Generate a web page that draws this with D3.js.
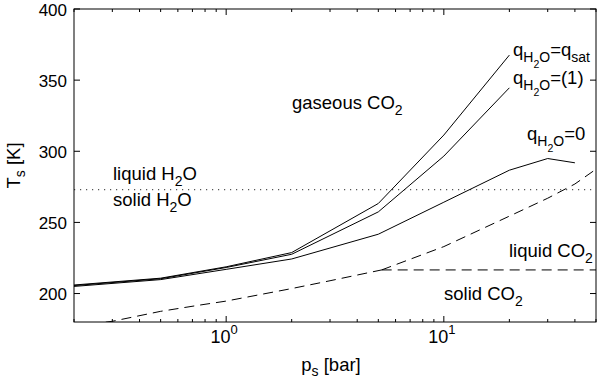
<!DOCTYPE html>
<html>
<head>
<meta charset="utf-8">
<script src="https://cdn.jsdelivr.net/npm/d3@7"></script>
<style>
  html, body { margin: 0; padding: 0; background: #fff; }
  svg { display: block; font-family: "Liberation Sans", Arial, sans-serif; }
</style>
</head>
<body>
<svg id="chart" width="600" height="381"></svg>
<script>
// surface temperature vs surface pressure, three humidity cases
const pressure = [0.2, 0.5, 1, 2, 5, 10, 20];
const tQsat    = [206, 210.8, 218.8, 228.8, 263.3, 311.4, 367.6];
const tQone    = [205.6, 210.4, 218.3, 227.6, 257.4, 296.6, 344.6];

const pressureDry = [0.2, 0.5, 1, 2, 5, 10, 20, 30, 40];
const tQzero      = [205, 209.8, 217, 224.3, 241.7, 264.2, 286.7, 294.9, 291.9];

// CO2 phase boundaries (sublimation, vaporisation, triple point line)
const pSublim = [0.2, 0.3, 0.5, 0.75, 1, 2, 3, 5.18];
const tSublim = [177, 180.5, 187.5, 191.8, 194.7, 203.5, 209, 216.6];
const pVapour = [5.18, 10, 20, 30, 40, 50];
const tVapour = [216.6, 233, 254.4, 267, 277, 287.4];
const pTriple = [5.18, 50];
const tTriple = [216.6, 216.6];

const tWaterFreeze = 273;

const xMajor = [1, 10];
const xMinor = [0.2, 0.3, 0.4, 0.5, 0.6, 0.7, 0.8, 0.9, 2, 3, 4, 5, 6, 7, 8, 9, 20, 30, 40, 50];
const yTicks = [200, 250, 300, 350, 400];

const svg = d3.select('#chart');
const m = { left: 74, top: 9, right: 4, bottom: 59 };
const W = 600 - m.left - m.right;
const H = 381 - m.top - m.bottom;

const x = d3.scaleLog().domain([0.2, 50]).range([0, W]);
const y = d3.scaleLinear().domain([180, 400]).range([H, 0]);

const g = svg.append('g').attr('transform', `translate(${m.left},${m.top})`);

g.append('clipPath').attr('id', 'clip')
  .append('rect').attr('width', W).attr('height', H);

const plot = g.append('g').attr('clip-path', 'url(#clip)');

const line = d3.line().x(d => x(d[0])).y(d => y(d[1]));
const zip = (a, b) => a.map((v, i) => [v, b[i]]);

// freezing line of water
plot.append('line')
  .attr('x1', 0).attr('x2', W)
  .attr('y1', y(tWaterFreeze)).attr('y2', y(tWaterFreeze))
  .attr('stroke', '#555').attr('stroke-width', 1.2)
  .attr('stroke-dasharray', '1.2,4.8');

// CO2 phase curves
[[pSublim, tSublim], [pVapour, tVapour], [pTriple, tTriple]].forEach(([p, t]) => {
  plot.append('path')
    .datum(zip(p, t))
    .attr('d', line)
    .attr('fill', 'none')
    .attr('stroke', '#000')
    .attr('stroke-width', 1)
    .attr('stroke-dasharray', '10,6');
});

// temperature curves
[[pressure, tQsat], [pressure, tQone], [pressureDry, tQzero]].forEach(([p, t]) => {
  plot.append('path')
    .datum(zip(p, t))
    .attr('d', line)
    .attr('fill', 'none')
    .attr('stroke', '#000')
    .attr('stroke-width', 1);
});

// frame
g.append('rect').attr('width', W).attr('height', H)
  .attr('fill', 'none').attr('stroke', '#000').attr('stroke-width', 1);

// ticks, inward on all four sides
const tk = g.append('g').attr('stroke', '#000').attr('stroke-width', 1);
xMajor.forEach(v => {
  tk.append('line').attr('x1', x(v)).attr('x2', x(v)).attr('y1', H).attr('y2', H - 6);
  tk.append('line').attr('x1', x(v)).attr('x2', x(v)).attr('y1', 0).attr('y2', 6);
});
xMinor.forEach(v => {
  tk.append('line').attr('x1', x(v)).attr('x2', x(v)).attr('y1', H).attr('y2', H - 3);
  tk.append('line').attr('x1', x(v)).attr('x2', x(v)).attr('y1', 0).attr('y2', 3);
});
yTicks.forEach(v => {
  tk.append('line').attr('x1', 0).attr('x2', 6).attr('y1', y(v)).attr('y2', y(v));
  tk.append('line').attr('x1', W).attr('x2', W - 6).attr('y1', y(v)).attr('y2', y(v));
});

// tick labels
yTicks.forEach(v => {
  g.append('text')
    .attr('x', -7).attr('y', y(v)).attr('dy', '0.4em')
    .attr('text-anchor', 'end').attr('font-size', 17)
    .text(v);
});
xMajor.forEach(v => {
  const t = g.append('text')
    .attr('x', x(v) - 2).attr('y', H + 21)
    .attr('text-anchor', 'middle').attr('font-size', 18);
  t.append('tspan').text('10');
  t.append('tspan').attr('dy', -9).attr('font-size', 13).text(Math.round(Math.log10(v)));
});

// axis titles
const xt = g.append('text')
  .attr('x', W / 2 - 4).attr('y', H + 49)
  .attr('text-anchor', 'middle').attr('font-size', 18.5);
xt.append('tspan').text('p');
xt.append('tspan').attr('dy', 5).attr('font-size', 14).text('s');
xt.append('tspan').attr('dy', -5).text(' [bar]');

const yt = g.append('text')
  .attr('transform', `translate(-54,${H / 2}) rotate(-90)`)
  .attr('text-anchor', 'middle').attr('font-size', 18.5);
yt.append('tspan').text('T');
yt.append('tspan').attr('dy', 5).attr('font-size', 14).text('s');
yt.append('tspan').attr('dy', -5).text(' [K]');

// region labels with subscripts
function label(px, py, parts) {
  const t = svg.append('text').attr('x', px).attr('y', py).attr('font-size', 18.5);
  let shift = 0;
  parts.forEach(([s, level]) => {
    const target = level * 6;
    t.append('tspan')
      .attr('dy', target - shift)
      .attr('font-size', level === 0 ? 18.5 : level === 1 ? 14 : 10.5)
      .text(s);
    shift = target;
  });
}

label(292, 109, [['gaseous CO', 0], ['2', 1]]);
label(113, 180, [['liquid H', 0], ['2', 1], ['O', 0]]);
label(113, 206, [['solid H', 0], ['2', 1], ['O', 0]]);
label(509, 257, [['liquid CO', 0], ['2', 1]]);
label(444, 300, [['solid CO', 0], ['2', 1]]);
label(513, 56, [['q', 0], ['H', 1], ['2', 2], ['O', 1], ['=q', 0], ['sat', 1]]);
label(513, 84, [['q', 0], ['H', 1], ['2', 2], ['O', 1], ['=(1)', 0]]);
label(527, 140, [['q', 0], ['H', 1], ['2', 2], ['O', 1], ['=0', 0]]);
</script>
</body>
</html>
